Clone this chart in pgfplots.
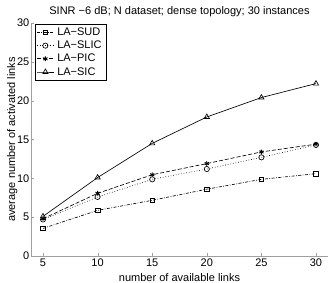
\documentclass[border=0pt]{standalone}
\usepackage{pgfplots}
\pgfplotsset{compat=1.18}
\usepackage{fontspec}
\setmainfont{Liberation Sans}
\begin{document}
\begin{tikzpicture}
\begin{axis}[
  name=ax,
  scale only axis,
  width=297pt, height=233pt,
  xmin=3.9, xmax=31.1, ymin=0, ymax=30,
  xtick={5,10,15,20,25,30}, ytick={0,5,10,15,20,25,30},
  axis x line*=bottom, axis y line*=left,
  axis line style={draw=gray!75, line width=0.8pt, -},
  tick align=inside,
  major tick length=3pt,
  tick style={draw=gray!75},
  /pgf/number format/assume math mode=true,
  tick label style={font=\fontsize{11}{12}\selectfont},
  xticklabel style={inner sep=1pt, yshift=-2pt},
  yticklabel style={inner sep=1.5pt},
  label style={font=\fontsize{11}{12}\selectfont},
  title style={font=\fontsize{11}{12}\selectfont, yshift=-3pt},
  title={SINR \textminus6 dB; N dataset; dense topology; 30 instances},
  xlabel={number of available links},
  ylabel={average number of activated links},
  xlabel style={inner sep=0pt, yshift=-5pt},
  ylabel style={inner sep=0pt, yshift=-2pt},
  legend style={at={(0.013,0.995)}, anchor=north west, draw=black, font=\fontsize{11}{12}\selectfont, row sep=0pt, inner sep=1.5pt, nodes={inner xsep=3pt}},
  legend cell align=left,
  every axis plot/.append style={black, line width=0.65pt},
]
\addplot[dash pattern=on 3pt off 1.5pt on 0.7pt off 1.5pt, mark=square, mark size=2.3pt, mark options={solid}]
  coordinates {(5,3.55) (10,5.88) (15,7.17) (20,8.6) (25,9.87) (30,10.6)};
\addlegendentry{LA\textminus SUD}
\addplot[dotted, mark=o, mark size=2.6pt, mark options={solid}]
  coordinates {(5,4.7) (10,7.6) (15,9.87) (20,11.2) (25,12.7) (30,14.3)};
\addlegendentry{LA\textminus SLIC}
\addplot[dash pattern=on 4pt off 2pt, mark=asterisk, mark size=2.4pt, mark options={solid, line width=0.9pt}]
  coordinates {(5,4.8) (10,8.07) (15,10.46) (20,11.9) (25,13.4) (30,14.4)};
\addlegendentry{LA\textminus PIC}
\addplot[solid, mark=triangle, mark size=3pt]
  coordinates {(5,5.1) (10,10.1) (15,14.5) (20,17.9) (25,20.4) (30,22.2)};
\addlegendentry{LA\textminus SIC}
\end{axis}
\pgfresetboundingbox
\path ([xshift=-31pt,yshift=-27pt]ax.south west) rectangle ([xshift=4pt,yshift=23pt]ax.north east);
\end{tikzpicture}
\end{document}
